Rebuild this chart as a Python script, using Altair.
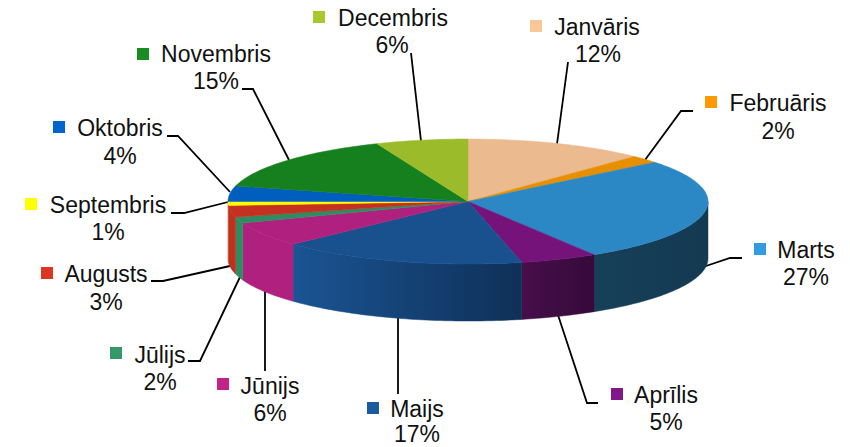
import math
import altair as alt
import pandas as pd

months = ["Janvāris", "Februāris", "Marts", "Aprīlis", "Maijs", "Jūnijs", "Jūlijs",
          "Augusts", "Septembris", "Oktobris", "Novembris", "Decembris"]
# slice sizes; the labels show them rounded
shares = [12.2, 2.0, 27.0, 5.2, 16.6, 6.4, 1.6, 3.0, 1.0, 4.0, 14.8, 6.2]
top_colors = ["#EBBB8F", "#E88F00", "#2C88C4", "#75137A", "#19508E", "#B0207E",
              "#2F8C61", "#C53020", "#FFFF00", "#005EBE", "#17801E", "#9BBB2A"]
key_colors = ["#FAC898", "#FF9900", "#339CE0", "#80188A", "#1A5A9E", "#C42288",
              "#339966", "#DC3522", "#FFFF00", "#0066CC", "#1A8D22", "#A8C92E"]
side_left = ["#EBBB8F", "#E88F00", "#163F59", "#470E4B", "#1A5494", "#B0207E",
             "#2F8C61", "#B8321E", "#C9502A", "#005EBE", "#17801E", "#9BBB2A"]
side_right = ["#EBBB8F", "#E88F00", "#143A52", "#360A3A", "#0F3057", "#B0207E",
              "#2F8C61", "#C53020", "#C9502A", "#005EBE", "#17801E", "#9BBB2A"]

# layout of the pie and of the labels, in page pixels
CX, CY, RX, RY, DEPTH = 468, 201.5, 240, 62.5, 57
name_x = [597, 778, 806, 666, 417, 270, 160, 106, 108, 120, 216, 393]
name_y = [27.7, 103.7, 250.7, 395.7, 409.7, 386.7, 355.7, 274.7, 205.7, 128.7, 54.7, 18.7]
pct_x = [598, 778, 806, 666, 417, 270, 160, 106, 108, 120, 216, 392]
pct_y = [54.7, 131.7, 277.7, 422.7, 435.2, 413.7, 382.7, 302.7, 232.7, 156.7, 81.7, 45.7]
key_x = [536, 711, 760, 617, 373, 223, 116, 47, 31, 59, 143, 319]
key_y = [26, 102, 249, 394, 408, 384, 353, 273, 204, 127, 54, 17]
leaders = [
    [(568, 62), (557, 144)],
    [(693, 111), (681, 111), (645, 160)],
    [(742, 258), (730, 258), (703, 267)],
    [(598, 403), (587, 403), (558, 315)],
    [(398, 394), (398, 317)],
    [(265, 371), (265, 290)],
    [(188, 361), (200, 361), (240, 277)],
    [(151, 281), (163, 281), (230, 266)],
    [(171, 213), (184, 213), (228, 202)],
    [(167, 136), (178, 136), (230, 192)],
    [(242, 89), (253, 89), (289, 160)],
    [(411, 53), (421, 141)],
]

xs = alt.X("x:Q", scale=alt.Scale(domain=[8, 842], nice=False, zero=False), axis=None)
ys = alt.Y("y:Q", scale=alt.Scale(domain=[447, 8], nice=False, zero=False), axis=None)


def rim(p0, p1, dy=0.0):
    n = max(2, int(abs(p1 - p0) * 3))
    pts = []
    for k in range(n + 1):
        a = 2 * math.pi * (p0 + (p1 - p0) * k / n) / 100
        pts.append((CX + RX * math.sin(a), CY - RY * math.cos(a) + dy))
    return pts


def polygon(points, fill):
    rows = [{"x": x, "y": y, "i": i} for i, (x, y) in enumerate(points + points[:1])]
    return alt.Chart(pd.DataFrame(rows)).mark_line(fill=fill, stroke=fill, strokeWidth=0.5, interpolate="linear").encode(
        x=xs, y=ys, order="i:Q")


layers = []
bounds = []
total = 0
for s in shares:
    bounds.append((total, total + s))
    total += s

for j, (p0, p1) in enumerate(bounds):
    a, b = max(p0, 25), min(p1, 75)
    if b > a:
        grad = alt.LinearGradient(gradient="linear", x1=0, x2=1, y1=0, y2=0, stops=[
            alt.GradientStop(color=side_left[j], offset=0),
            alt.GradientStop(color=side_right[j], offset=1)])
        layers.append(polygon(rim(a, b) + rim(b, a, DEPTH), grad))

for j, (p0, p1) in enumerate(bounds):
    layers.append(polygon([(CX, CY)] + rim(p0, p1), top_colors[j]))

rows = []
for j, line in enumerate(leaders):
    for i, (x, y) in enumerate(line):
        rows.append({"x": x, "y": y, "i": i, "m": months[j]})
leader_layer = alt.Chart(pd.DataFrame(rows)).mark_line(color="black", strokeWidth=1.8).encode(
    x=xs, y=ys, order="i:Q", detail="m:N")

text_rows = []
for j, m in enumerate(months):
    text_rows.append({"x": name_x[j], "y": name_y[j], "t": m})
    text_rows.append({"x": pct_x[j], "y": pct_y[j], "t": f"{round(shares[j])}%"})
text_layer = alt.Chart(pd.DataFrame(text_rows)).mark_text(
    font="Liberation Sans", fontSize=23, color="#111111", align="center", baseline="middle").encode(
    x=xs, y=ys, text="t:N")

keys = pd.DataFrame({"x": key_x, "y": key_y, "c": key_colors})
key_layer = alt.Chart(keys).mark_square(size=144, opacity=1, strokeWidth=0).encode(
    x=xs, y=ys, color=alt.Color("c:N", scale=None))

chart = alt.layer(leader_layer, *layers, key_layer, text_layer).properties(
    width=834, height=439, padding=0, autosize=alt.AutoSizeParams(type="none")
).configure_view(stroke=None)

chart.save("out.html", embed_options={"renderer": "svg", "actions": False})
